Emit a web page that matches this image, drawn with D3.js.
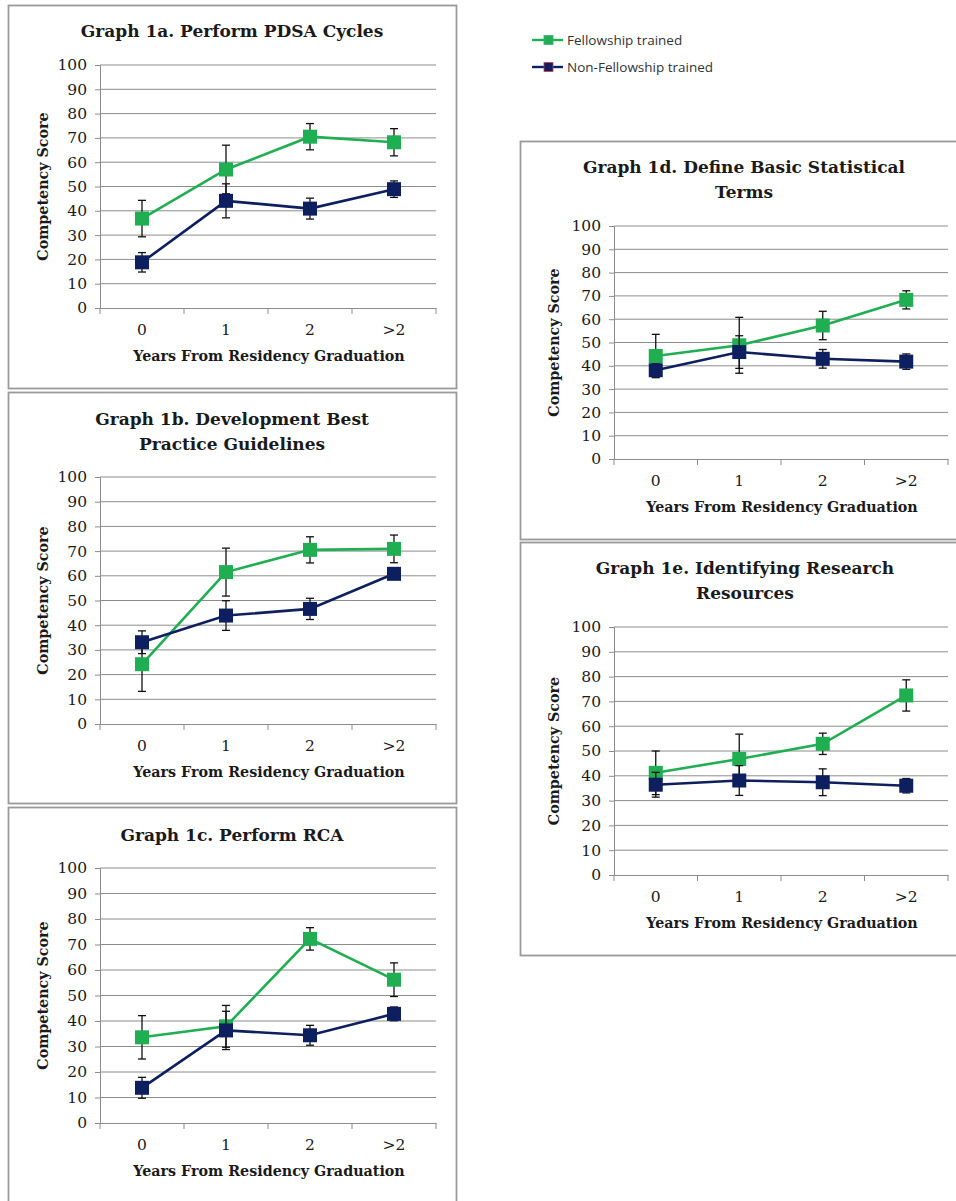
<!DOCTYPE html>
<html><head><meta charset="utf-8">
<script src="https://cdn.jsdelivr.net/npm/d3@7"></script>
<style>body{margin:0;background:#fff}svg{display:block}</style>
</head><body>
<svg id="c" width="956" height="1201"></svg>
<script>
// ---------- data ----------
const categories = ["0", "1", "2", ">2"];
const yTicks = [0, 10, 20, 30, 40, 50, 60, 70, 80, 90, 100];
const seriesNames = ["Fellowship trained", "Non-Fellowship trained"];
const yAxisTitle = "Competency Score";
const xAxisTitle = "Years From Residency Graduation";

const title1a = ["Graph 1a. Perform PDSA Cycles"];
const fellow1a = [36.8, 57.0, 70.5, 68.2];
const fellowErr1a = [7.5, 10.0, 5.4, 5.6];
const nonFellow1a = [18.8, 44.1, 40.9, 48.9];
const nonFellowErr1a = [4.0, 7.0, 4.3, 3.4];

const title1b = ["Graph 1b. Development Best", "Practice Guidelines"];
const fellow1b = [24.2, 61.5, 70.5, 70.9];
const fellowErr1b = [11.0, 9.7, 5.3, 5.6];
const nonFellow1b = [33.1, 43.9, 46.6, 60.8];
const nonFellowErr1b = [4.6, 6.0, 4.3, 1.5];

const title1c = ["Graph 1c. Perform RCA"];
const fellow1c = [33.6, 37.9, 72.2, 56.2];
const fellowErr1c = [8.5, 8.2, 4.4, 6.6];
const nonFellow1c = [13.8, 36.3, 34.4, 42.8];
const nonFellowErr1c = [4.1, 7.5, 3.9, 2.7];

const title1d = ["Graph 1d. Define Basic Statistical", "Terms"];
const fellow1d = [44.2, 48.8, 57.3, 68.3];
const fellowErr1d = [9.3, 12.0, 6.1, 3.9];
const nonFellow1d = [38.1, 45.9, 43.0, 41.8];
const nonFellowErr1d = [2.8, 7.0, 4.0, 3.3];

const title1e = ["Graph 1e. Identifying Research", "Resources"];
const fellow1e = [41.2, 46.8, 52.9, 72.4];
const fellowErr1e = [8.8, 10.0, 4.3, 6.3];
const nonFellow1e = [36.4, 38.1, 37.4, 36.0];
const nonFellowErr1e = [5.0, 6.0, 5.4, 2.9];

// ---------- layout / style ----------
const GREEN = "#1fae52", NAVY = "#0e1f5f";
const SERIF = "'DejaVu Serif', serif";
const panels = [
  {title: title1a, f: fellow1a, fe: fellowErr1a, n: nonFellow1a, ne: nonFellowErr1a,
   box: [8.5, 5.5, 448, 383], plot: [100, 65, 436, 308], titleX: 232, titleY: 31, yTitleX: 43},
  {title: title1b, f: fellow1b, fe: fellowErr1b, n: nonFellow1b, ne: nonFellowErr1b,
   box: [8.5, 392.5, 448, 411], plot: [100, 477, 436, 724], titleX: 232, titleY: 419, yTitleX: 43},
  {title: title1c, f: fellow1c, fe: fellowErr1c, n: nonFellow1c, ne: nonFellowErr1c,
   box: [8.5, 807.5, 448, 420], plot: [100, 868, 436, 1123], titleX: 232, titleY: 835, yTitleX: 43},
  {title: title1d, f: fellow1d, fe: fellowErr1d, n: nonFellow1d, ne: nonFellowErr1d,
   box: [520.5, 141.5, 460, 398], plot: [614, 226, 948, 459], titleX: 744, titleY: 167, yTitleX: 554},
  {title: title1e, f: fellow1e, fe: fellowErr1e, n: nonFellow1e, ne: nonFellowErr1e,
   box: [520.5, 542.5, 460, 413], plot: [614, 627, 948, 875], titleX: 745, titleY: 568, yTitleX: 554}
];

const svg = d3.select("#c");

panels.forEach(p => {
  const g = svg.append("g");
  const [bx, by, bw, bh] = p.box;
  g.append("rect").attr("x", bx).attr("y", by).attr("width", bw).attr("height", bh)
    .attr("fill", "#fff").attr("stroke", "#9a9a9a").attr("stroke-width", 1.8);

  const [l, t, r, b] = p.plot;
  const x = d3.scaleBand().domain(categories).range([l, r]);
  const y = d3.scaleLinear().domain([0, 100]).range([b, t]);

  // gridlines
  g.append("g").selectAll("line").data(yTicks.filter(v => v > 0)).join("line")
    .attr("x1", l).attr("x2", r).attr("y1", d => y(d)).attr("y2", d => y(d))
    .attr("stroke", "#8c8c8c").attr("stroke-width", 1);

  // y axis
  const ya = g.append("g").attr("transform", `translate(${l},0)`)
    .call(d3.axisLeft(y).tickValues(yTicks).tickSize(5).tickPadding(8));
  ya.select(".domain").attr("stroke", "#8c8c8c");
  ya.selectAll(".tick line").attr("stroke", "#8c8c8c");
  ya.selectAll("text").attr("font-family", SERIF).attr("font-size", 15.5).attr("fill", "#1a1a1a");

  // x axis
  const xa = g.append("g").attr("transform", `translate(0,${b})`)
    .call(d3.axisBottom(x).tickSize(0).tickPadding(16));
  xa.select(".domain").attr("stroke", "#8c8c8c");
  xa.selectAll("text").attr("font-family", SERIF).attr("font-size", 15.5).attr("fill", "#1a1a1a");
  // boundary tick marks
  const bounds = categories.map(c => x(c)).concat([x(categories[categories.length - 1]) + x.bandwidth()]);
  g.append("g").selectAll("line").data(bounds).join("line")
    .attr("x1", d => d).attr("x2", d => d).attr("y1", b).attr("y2", b + 6)
    .attr("stroke", "#8c8c8c");

  // titles
  const tt = g.append("text").attr("text-anchor", "middle").attr("font-family", SERIF)
    .attr("font-weight", "bold").attr("font-size", 17).attr("fill", "#1a1a1a");
  p.title.forEach((line, i) => tt.append("tspan").attr("x", p.titleX)
    .attr("y", p.titleY + i * 25).attr("dy", "0.35em").text(line));

  g.append("text").attr("text-anchor", "middle").attr("font-family", SERIF)
    .attr("font-weight", "bold").attr("font-size", 14.3).attr("fill", "#1a1a1a")
    .attr("x", (l + r) / 2 + 1).attr("y", b + 48).attr("dy", "0.35em").text(xAxisTitle);

  g.append("text").attr("text-anchor", "middle").attr("font-family", SERIF)
    .attr("font-weight", "bold").attr("font-size", 14.3).attr("fill", "#1a1a1a")
    .attr("transform", `translate(${p.yTitleX},${(t + b) / 2}) rotate(-90)`)
    .attr("dy", "0.35em").text(yAxisTitle);

  // series
  const cx = c => x(c) + x.bandwidth() / 2;
  [[p.f, p.fe, GREEN], [p.n, p.ne, NAVY]].forEach(([vals, errs, col]) => {
    const pts = categories.map((c, i) => ({c, v: vals[i], e: errs[i]}));
    g.append("path").datum(pts)
      .attr("d", d3.line().x(d => cx(d.c)).y(d => y(d.v)))
      .attr("fill", "none").attr("stroke", col).attr("stroke-width", 2.6);
    const eb = g.append("g").attr("stroke", "#111").attr("stroke-width", 1.3);
    pts.forEach(d => {
      const xc = cx(d.c);
      eb.append("line").attr("x1", xc).attr("x2", xc).attr("y1", y(d.v + d.e)).attr("y2", y(d.v - d.e));
      eb.append("line").attr("x1", xc - 4).attr("x2", xc + 4).attr("y1", y(d.v + d.e)).attr("y2", y(d.v + d.e));
      eb.append("line").attr("x1", xc - 4).attr("x2", xc + 4).attr("y1", y(d.v - d.e)).attr("y2", y(d.v - d.e));
    });
    g.append("g").selectAll("rect").data(pts).join("rect")
      .attr("x", d => cx(d.c) - 7).attr("y", d => y(d.v) - 7)
      .attr("width", 14).attr("height", 14).attr("fill", col);
  });
});

// legend
const legend = svg.append("g");
const legCols = [GREEN, NAVY];
const legOutline = ["#3fae80", "#c0405a"];
seriesNames.forEach((name, i) => {
  const ly = 40 + i * 27;
  legend.append("line").attr("x1", 532).attr("x2", 563).attr("y1", ly).attr("y2", ly)
    .attr("stroke", legCols[i]).attr("stroke-width", 2.4);
  legend.append("rect").attr("x", 544).attr("y", ly - 4.5).attr("width", 9).attr("height", 9)
    .attr("fill", legCols[i]).attr("stroke", legOutline[i]).attr("stroke-width", 0.8);
  legend.append("text").attr("x", 567).attr("y", ly).attr("dy", "0.35em")
    .attr("font-family", "'Open Sans', sans-serif").attr("font-size", 13.5).attr("fill", "#333")
    .text(name);
});
</script>
</body></html>
